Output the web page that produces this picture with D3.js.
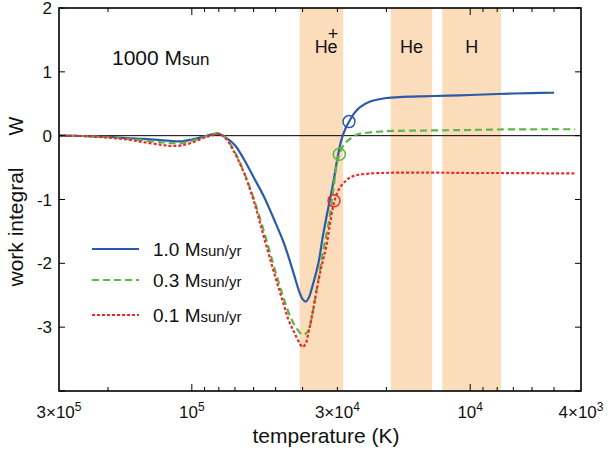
<!DOCTYPE html>
<html>
<head>
<meta charset="utf-8">
<script src="https://cdn.jsdelivr.net/npm/d3@7"></script>
<style>
  body { margin: 0; background: #fff; }
  svg text { font-family: "Liberation Sans", Arial, Helvetica, sans-serif; fill: #111; }
</style>
</head>
<body>
<svg id="chart" width="611" height="453"></svg>
<script>
"use strict"

// temperature grid (K), curves
const temps = [300000, 250000, 200000, 170000, 150000, 130000, 120000, 110000, 100000, 90000,
  85000, 80000, 75000, 70000, 65000, 60000, 55000, 50000, 47000, 45000,
  43000, 41000, 40000, 39000, 38000, 37000, 35000, 34000, 33000, 32000, 31000,
  30000, 29000, 28000, 27000, 26000, 25000, 23000, 21000, 20000, 18000,
  15000, 12000, 10000, 8000, 6000, 5000, 4200]

const w_10 = [0, -0.005, -0.02, -0.04, -0.05, -0.07, -0.08, -0.09, -0.06, -0.01,
  0.02, 0.03, -0.04, -0.15, -0.37, -0.65, -0.96, -1.37, -1.65, -1.89,
  -2.17, -2.46, -2.56, -2.60, -2.54, -2.38, -1.97, -1.63, -1.32, -1.03, -0.72,
  -0.36, -0.06, 0.12, 0.25, 0.36, 0.44, 0.53, 0.575, 0.59, 0.605,
  0.617, 0.626, 0.637, 0.653, 0.668, 0.672, null]

const w_03 = [0, -0.005, -0.025, -0.05, -0.075, -0.10, -0.115, -0.12, -0.08, -0.02,
  0.02, 0.035, -0.05, -0.26, -0.57, -0.98, -1.51, -2.14, -2.52, -2.76,
  -2.95, -3.08, -3.12, -3.10, -3.04, -2.82, -2.22, -1.89, -1.59, -1.28, -0.84,
  -0.40, -0.21, -0.107, -0.05, 0.0, 0.03, 0.05, 0.065, 0.07, 0.076,
  0.08, 0.085, 0.089, 0.097, 0.10, 0.101, 0.10]

const w_01 = [0, -0.005, -0.03, -0.06, -0.10, -0.14, -0.16, -0.155, -0.11, -0.03,
  0.0, 0.03, -0.06, -0.28, -0.58, -1.01, -1.60, -2.23, -2.61, -2.88,
  -3.07, -3.25, -3.31, -3.26, -3.06, -2.82, -2.25, -2.00, -1.77, -1.42, -1.09,
  -0.89, -0.78, -0.71, -0.655, -0.624, -0.61, -0.593, -0.585, -0.582, -0.58,
  -0.58, -0.581, -0.585, -0.585, -0.588, -0.59, -0.59]

// marked points [T, W]
const marks_10 = [27250, 0.22]
const marks_03 = [29530, -0.29]
const marks_01 = [30850, -1.02]

// ionisation zones [T hot, T cool]
const bands = [
  {name: "He", sup: "+", t: [41000, 28600]},
  {name: "He", sup: "", t: [19300, 13700]},
  {name: "H", sup: "", t: [12600, 7750]}
]

const xTickLabels = [
  {t: 3e5, m: "3×10", e: "5"},
  {t: 1e5, m: "10", e: "5"},
  {t: 3e4, m: "3×10", e: "4"},
  {t: 1e4, m: "10", e: "4"},
  {t: 4e3, m: "4×10", e: "3"}
]
const yTicks = [2, 1, 0, -1, -2, -3, -4]

const series = [
  {label: "1.0", w: w_10, mark: marks_10, color: "#2b5ba8", dash: null},
  {label: "0.3", w: w_03, mark: marks_03, color: "#5bb848", dash: "7,4"},
  {label: "0.1", w: w_01, mark: marks_01, color: "#ec2a2a", dash: "3,2"}
]

const svg = d3.select("#chart")
const margins = {left: 59, right: 581, top: 8, bottom: 391}

const x = d3.scaleLog().domain([3e5, 4e3]).range([margins.left, margins.right])
const y = d3.scaleLinear().domain([-4, 2]).range([margins.bottom, margins.top])

// shaded zones
svg.selectAll(".band").data(bands).enter()
  .append("rect")
  .attr("class", "band")
  .attr("x", d => x(d.t[0]))
  .attr("y", margins.top)
  .attr("width", d => x(d.t[1]) - x(d.t[0]))
  .attr("height", margins.bottom - margins.top)
  .attr("fill", "#fbdcbb")

// zone labels, the "+" sits above the "e"
const bandText = svg.selectAll(".bandlabel").data(bands).enter()
  .append("text")
  .attr("class", "bandlabel")
  .attr("x", d => x(Math.sqrt(d.t[0] * d.t[1])) + (d.sup ? 5 : 0))
  .attr("y", 53)
  .attr("text-anchor", "middle")
  .style("font-size", "18px")
bandText.append("tspan").text(d => d.name)
bandText.filter(d => d.sup).append("tspan")
  .attr("dx", -10).attr("dy", -13)
  .text(d => d.sup)

// zero line
svg.append("line")
  .attr("x1", margins.left).attr("x2", margins.right)
  .attr("y1", y(0)).attr("y2", y(0))
  .attr("stroke", "#000").attr("stroke-width", 1)

// curves
const line = d3.line()
  .defined(d => d[1] !== null)
  .x(d => x(d[0]))
  .y(d => y(d[1]))
  .curve(d3.curveCatmullRom.alpha(0.5))

series.forEach(s => {
  const pts = temps.map((t, i) => [t, s.w[i]])
  svg.append("path")
    .attr("d", line(pts))
    .attr("fill", "none")
    .attr("stroke", s.color)
    .attr("stroke-width", 2.2)
    .attr("stroke-dasharray", s.dash)
  svg.append("circle")
    .attr("cx", x(s.mark[0]))
    .attr("cy", y(s.mark[1]))
    .attr("r", 6)
    .attr("fill", "none")
    .attr("stroke", s.color)
    .attr("stroke-width", 1.5)
})

// axes (ticks inward, on all sides)
const majorT = [1e5, 1e4]
const minorT = x.ticks().filter(t => majorT.indexOf(t) < 0 && t < 3e5 && t > 4e3)

function tickGroup(vals, len) {
  vals.forEach(t => {
    svg.append("line").attr("x1", x(t)).attr("x2", x(t))
      .attr("y1", margins.bottom).attr("y2", margins.bottom - len)
      .attr("stroke", "#000").attr("stroke-width", 1)
    svg.append("line").attr("x1", x(t)).attr("x2", x(t))
      .attr("y1", margins.top).attr("y2", margins.top + len)
      .attr("stroke", "#000").attr("stroke-width", 1)
  })
}
tickGroup(minorT, 4)
tickGroup(majorT, 7)

yTicks.forEach(v => {
  svg.append("line").attr("x1", margins.left).attr("x2", margins.left + 6)
    .attr("y1", y(v)).attr("y2", y(v))
    .attr("stroke", "#000").attr("stroke-width", 1)
  svg.append("line").attr("x1", margins.right).attr("x2", margins.right - 6)
    .attr("y1", y(v)).attr("y2", y(v))
    .attr("stroke", "#000").attr("stroke-width", 1)
})

svg.append("rect")
  .attr("x", margins.left).attr("y", margins.top)
  .attr("width", margins.right - margins.left).attr("height", margins.bottom - margins.top)
  .attr("fill", "none").attr("stroke", "#000").attr("stroke-width", 1.6)

// tick labels
svg.selectAll(".ylab").data(yTicks.filter(v => v > -4)).enter()
  .append("text")
  .attr("x", 52)
  .attr("y", d => y(d) + 6)
  .attr("text-anchor", "end")
  .style("font-size", "17px")
  .text(d => d)

xTickLabels.forEach(d => {
  const t = svg.append("text")
    .attr("x", x(d.t))
    .attr("y", 418)
    .attr("text-anchor", "middle")
    .style("font-size", "17px")
  t.append("tspan").text(d.m)
  t.append("tspan").attr("dy", -7).style("font-size", "12px").text(d.e)
})

// axis titles
svg.append("text")
  .attr("x", 326).attr("y", 443)
  .attr("text-anchor", "middle")
  .style("font-size", "21px")
  .text("temperature (K)")

svg.append("text")
  .attr("transform", "translate(23,227) rotate(-90)")
  .attr("text-anchor", "middle")
  .style("font-size", "21px")
  .text("work integral")
svg.append("text")
  .attr("transform", "translate(23,126) rotate(-90)")
  .attr("text-anchor", "middle")
  .style("font-size", "20px")
  .text("W")

// annotation
const ann = svg.append("text").attr("x", 112).attr("y", 65).style("font-size", "21px")
ann.append("tspan").text("1000 M")
ann.append("tspan").style("font-size", "17px").text("sun")

// legend
const legY = [249, 280, 315]
series.forEach((s, i) => {
  svg.append("line")
    .attr("x1", 92).attr("x2", 139)
    .attr("y1", legY[i]).attr("y2", legY[i])
    .attr("stroke", s.color).attr("stroke-width", 2.2)
    .attr("stroke-dasharray", s.dash)
  const t = svg.append("text").attr("x", 153).attr("y", legY[i] + 7).style("font-size", "19px")
  t.append("tspan").text(s.label + " M")
  t.append("tspan").style("font-size", "15px").text("sun/yr")
})
</script>
</body>
</html>
